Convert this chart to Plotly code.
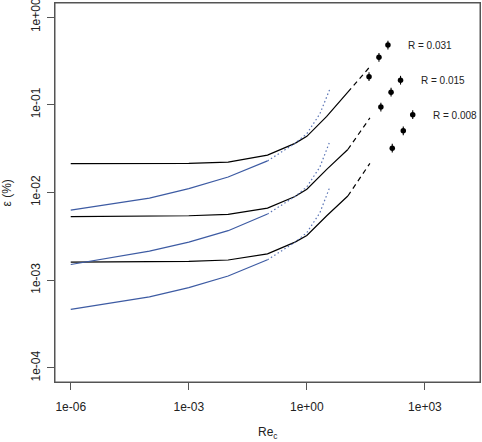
import math
import plotly.graph_objects as go

# ---- data ----
x_black = [1e-6, 1e-4, 1e-3, 1e-2, 1e-1, 0.5, 1.0, 3.2, 11.0]
black_top = [0.0213, 0.0214, 0.0215, 0.0222, 0.0267, 0.0363, 0.0437, 0.0736, 0.139]
black_mid = [0.0053, 0.00537, 0.00543, 0.00564, 0.00664, 0.00902, 0.01089, 0.01837, 0.0309]
black_bot = [0.00161, 0.00162, 0.00164, 0.0017, 0.0020, 0.00272, 0.00324, 0.00543, 0.00912]

x_dash = [11.0, 40.0]
dash_top = [0.139, 0.2716]
dash_mid = [0.0309, 0.0708]
dash_bot = [0.00912, 0.0215]

x_blue = [1e-6, 1e-4, 1e-3, 1e-2, 1e-1]
blue_top = [0.00631, 0.00861, 0.01109, 0.01503, 0.0229]
blue_mid = [0.00151, 0.00215, 0.00272, 0.00367, 0.00568]
blue_bot = [0.000465, 0.000646, 0.000824, 0.001117, 0.00171]

x_dot = [0.1, 0.5, 1.0, 2.14, 3.85]
dot_top = [0.0229, 0.0363, 0.0468, 0.0787, 0.1514]
dot_mid = [0.00568, 0.0090, 0.01159, 0.0195, 0.0384]
dot_bot = [0.00171, 0.00271, 0.00349, 0.00587, 0.01159]

pts_x_031 = [38, 68, 115]
pts_y_031 = [0.209, 0.347, 0.479]
pts_x_015 = [76, 138, 240]
pts_y_015 = [0.0942, 0.139, 0.1905]
pts_x_008 = [148, 282, 490]
pts_y_008 = [0.032, 0.0504, 0.0771]
err_log = 0.05

labels = ["R = 0.031", "R = 0.015", "R = 0.008"]
label_x = [331, 708, 1413]
label_y = [0.479, 0.188, 0.0764]

y_tickvals = [1e-4, 1e-3, 1e-2, 1e-1, 1]
y_ticktext = ["1e-04", "1e-03", "1e-02", "1e-01", "1e+00"]
x_tickvals = [1e-6, 1e-3, 1, 1e3]
x_ticktext = ["1e-06", "1e-03", "1e+00", "1e+03"]

BLUE = "#3d5ba3"
DOTBLUE = "#5a74b5"
FONT = "Liberation Sans, Arial, sans-serif"

fig = go.Figure()

for ys in (black_top, black_mid, black_bot):
    fig.add_trace(go.Scatter(x=x_black, y=ys, mode="lines",
                             line=dict(color="black", width=1.2), hoverinfo="skip"))
for ys in (dash_top, dash_mid, dash_bot):
    fig.add_trace(go.Scatter(x=x_dash, y=ys, mode="lines",
                             line=dict(color="black", width=1.2, dash="5px,4px"), hoverinfo="skip"))
for ys in (blue_top, blue_mid, blue_bot):
    fig.add_trace(go.Scatter(x=x_blue, y=ys, mode="lines",
                             line=dict(color=BLUE, width=1.2), hoverinfo="skip"))
for ys in (dot_top, dot_mid, dot_bot):
    fig.add_trace(go.Scatter(x=x_dot, y=ys, mode="lines",
                             line=dict(color=DOTBLUE, width=1.2, dash="1.5px,2.5px"), hoverinfo="skip"))

up = 10 ** err_log - 1
dn = 1 - 10 ** (-err_log)
for px, py in ((pts_x_031, pts_y_031), (pts_x_015, pts_y_015), (pts_x_008, pts_y_008)):
    fig.add_trace(go.Scatter(
        x=px, y=py, mode="markers",
        marker=dict(color="black", size=5.5),
        error_y=dict(type="data", symmetric=False,
                     array=[v * up for v in py], arrayminus=[v * dn for v in py],
                     color="black", thickness=1.1, width=0),
        hoverinfo="skip"))

annotations = []
for t, lx, ly in zip(labels, label_x, label_y):
    annotations.append(dict(x=math.log10(lx), y=math.log10(ly), xref="x", yref="y",
                            text=t, showarrow=False,
                            xanchor="left", yanchor="middle",
                            font=dict(family=FONT, size=10, color="#222")))
annotations.append(dict(x=0.5, y=-0.135, xref="paper", yref="paper",
                        text="Re<sub>c</sub>", showarrow=False,
                        xanchor="center", yanchor="middle",
                        font=dict(family=FONT, size=12, color="#222")))
annotations.append(dict(x=-0.113, y=0.5, xref="paper", yref="paper",
                        text="ε (%)", showarrow=False, textangle=-90,
                        xanchor="center", yanchor="middle",
                        font=dict(family=FONT, size=12, color="#222")))

fig.update_layout(
    width=482, height=442,
    margin=dict(l=55, r=2, t=3, b=60),
    paper_bgcolor="white", plot_bgcolor="white",
    showlegend=False,
    font=dict(family=FONT, size=12, color="#222"),
    annotations=annotations,
    shapes=[dict(type="rect", xref="paper", yref="paper", x0=0, x1=1, y0=0, y1=1,
                 line=dict(color="#555", width=1), layer="above")],
    xaxis=dict(type="log", range=[-6.4, 4.4], tickvals=x_tickvals, ticktext=x_ticktext,
               showgrid=False, zeroline=False, showline=True, mirror=True, automargin=False,
               linecolor="#555", linewidth=1, ticks="outside", ticklen=7,
               tickcolor="#555", tickfont=dict(size=12, color="#222"),
               ticklabelstandoff=7, ticklabeloverflow="allow"),
    yaxis=dict(type="log", range=[-4.16, 0.16], tickvals=y_tickvals, ticktext=y_ticktext,
               showgrid=False, zeroline=False, showline=True, mirror=True, automargin=False,
               linecolor="#555", linewidth=1, ticks="outside", ticklen=7,
               tickcolor="#555", tickangle=-90, tickfont=dict(size=12, color="#222"),
               ticklabelstandoff=2, ticklabeloverflow="allow"),
)

fig.write_html(
    "out.html",
    config={"displayModeBar": False},
    post_script="document.body.style.margin='0';document.body.style.padding='0';"
                "document.body.style.overflow='hidden';"
                "document.documentElement.style.overflow='hidden';",
)
